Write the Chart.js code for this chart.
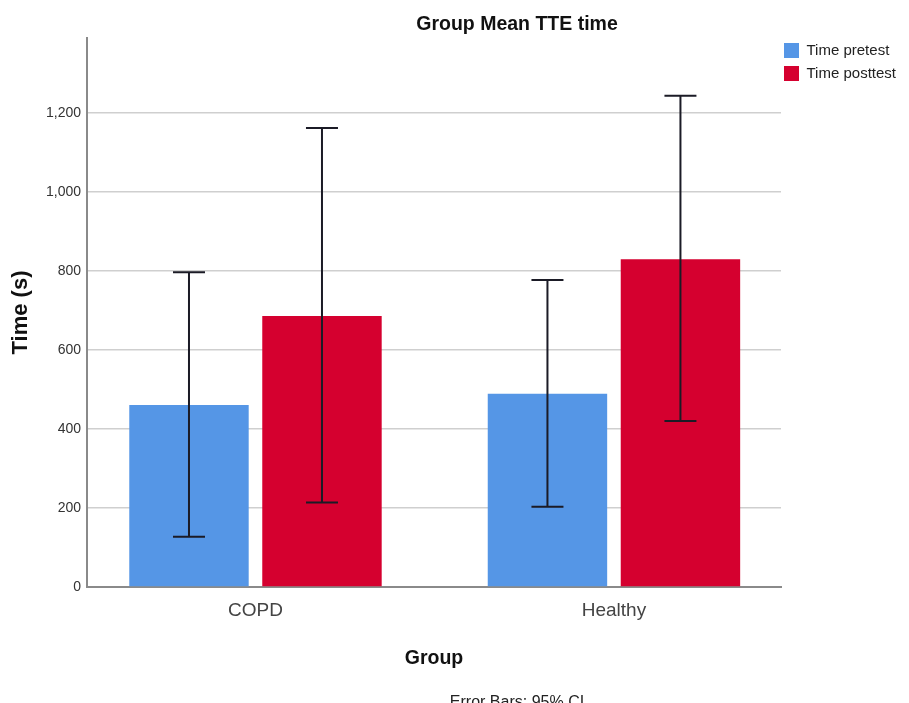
<!DOCTYPE html>
<html>
<head>
<meta charset="utf-8">
<style>
  html, body { margin: 0; padding: 0; background: #ffffff; }
  #wrap { width: 909px; height: 703px; position: relative; }
</style>
<script src="https://cdn.jsdelivr.net/npm/chart.js@4.4.1/dist/chart.umd.min.js"></script>
</head>
<body>
<div id="wrap"><canvas id="c" width="909" height="703"></canvas></div>
<script>
// ---- data ----
const chartTitle = 'Group Mean TTE time';
const categories = ['COPD', 'Healthy'];
const seriesNames = ['Time pretest', 'Time posttest'];
const pretestMean = [461, 489];
const pretestLow = [127, 203];
const pretestHigh = [797, 777];
const posttestMean = [686, 830];
const posttestLow = [214, 420];
const posttestHigh = [1162, 1244];
const yTicks = [0, 200, 400, 600, 800, 1000, 1200];
const yAxisTitle = 'Time (s)';
const xAxisTitle = 'Group';
const footnote = 'Error Bars: 95% CI';

// ---- styles ----
const SANS = "'Liberation Sans', Arial, sans-serif";
const errLowSets = [pretestLow, posttestLow];
const errHighSets = [pretestHigh, posttestHigh];

const toPoints = arr => arr.map((v, i) => ({ x: i, y: v }));

const layoutPlugin = {
  id: 'layoutFix',
  beforeLayout(chart) {
    const lg = chart.legend;
    if (lg && !lg.__patched) {
      const orig = lg.fit;
      lg.fit = function () { orig.call(this); this.width = 128; };
      lg.__patched = true;
    }
  },
  afterLayout(chart) {
    const lg = chart.legend;
    if (lg) { lg.left = 776; lg.right = 909; lg.top = 35; }
    const t = chart.titleBlock;
    if (t) { t.left = 125; t.right = 909; }
  }
};

const errorBarPlugin = {
  id: 'errorBars',
  afterDatasetsDraw(chart) {
    const ctx = chart.ctx;
    const y = chart.scales.y;
    chart.data.datasets.forEach((ds, di) => {
      const meta = chart.getDatasetMeta(di);
      meta.data.forEach((bar, i) => {
        const x = bar.x;
        const yHi = y.getPixelForValue(errHighSets[di][i]);
        const yLo = y.getPixelForValue(errLowSets[di][i]);
        ctx.save();
        ctx.strokeStyle = '#1b1b26';
        ctx.lineWidth = 2;
        ctx.beginPath();
        ctx.moveTo(x, yHi); ctx.lineTo(x, yLo);
        ctx.moveTo(x - 16, yHi); ctx.lineTo(x + 16, yHi);
        ctx.moveTo(x - 16, yLo); ctx.lineTo(x + 16, yLo);
        ctx.stroke();
        ctx.restore();
      });
    });
  }
};

const footnotePlugin = {
  id: 'footnote',
  afterDraw(chart) {
    const ctx = chart.ctx;
    ctx.save();
    ctx.font = '16px ' + SANS;
    ctx.fillStyle = '#222222';
    ctx.textAlign = 'center';
    ctx.textBaseline = 'alphabetic';
    ctx.fillText(footnote, 517, 706.5);
    ctx.restore();
  }
};

new Chart(document.getElementById('c'), {
  type: 'bar',
  data: {
    datasets: [
      { label: seriesNames[0], data: toPoints(pretestMean), backgroundColor: '#5596E6' },
      { label: seriesNames[1], data: toPoints(posttestMean), backgroundColor: '#D5002F' }
    ]
  },
  options: {
    responsive: false,
    animation: false,
    devicePixelRatio: 1,
    categoryPercentage: 0.742,
    barPercentage: 0.898,
    layout: { padding: 0, autoPadding: false },
    scales: {
      x: {
        type: 'linear',
        min: -0.47,
        max: 1.466,
        offset: false,
        afterBuildTicks: s => { s.ticks = categories.map((c, i) => ({ value: i })); },
        afterFit: s => { s.height = 116; },
        ticks: {
          callback: v => (categories[v] !== undefined ? categories[v] : ''),
          font: { family: SANS, size: 19 },
          color: '#444444',
          padding: 12,
          autoSkip: false,
          maxRotation: 0
        },
        grid: { display: false, drawTicks: false },
        border: { display: true, color: '#8a8a8a', width: 2 },
        title: {
          display: true, text: xAxisTitle,
          font: { family: SANS, size: 19.5, weight: 'bold' },
          color: '#111111',
          padding: { top: 0, bottom: 32.3 }
        }
      },
      y: {
        min: 0,
        max: 1390,
        afterBuildTicks: s => { s.ticks = yTicks.map(v => ({ value: v })); },
        afterFit: s => { s.width = 87; },
        ticks: {
          callback: v => v.toLocaleString('en-US'),
          font: { family: SANS, size: 14 },
          color: '#333333',
          padding: 6
        },
        grid: { color: '#cfcfcf', lineWidth: 1.5, drawTicks: false },
        border: { color: '#8a8a8a', width: 2 },
        title: {
          display: true, text: yAxisTitle,
          font: { family: SANS, size: 22, weight: 'bold' },
          color: '#111111',
          padding: { top: 8, bottom: 0 }
        }
      }
    },
    plugins: {
      title: {
        display: true, text: chartTitle,
        font: { family: SANS, size: 19.5, weight: 'bold' },
        color: '#111111',
        padding: { top: 13.3, bottom: 1.3 }
      },
      legend: {
        position: 'right',
        align: 'start',
        labels: {
          boxWidth: 15, boxHeight: 15, padding: 8,
          font: { family: SANS, size: 15 },
          color: '#222222'
        }
      },
      tooltip: { enabled: false }
    }
  },
  plugins: [layoutPlugin, errorBarPlugin, footnotePlugin]
});
</script>
</body>
</html>
